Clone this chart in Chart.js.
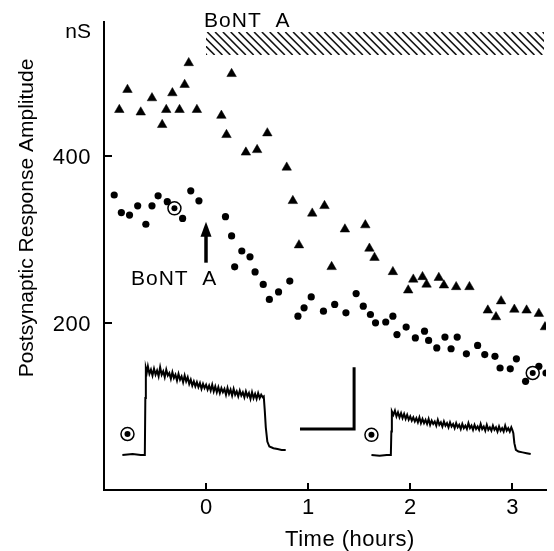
<!DOCTYPE html>
<html>
<head>
<meta charset="utf-8">
<script src="https://cdn.jsdelivr.net/npm/chart.js@4.4.0/dist/chart.umd.min.js"></script>
<style>
  html, body { margin: 0; padding: 0; background: #fff; }
</style>
</head>
<body>
<canvas id="chart" width="554" height="551"></canvas>
<script>
// ====================== Data ======================
// time in hours, amplitude in nS
const triTime = [-0.85, -0.77, -0.64, -0.53, -0.43, -0.39, -0.33, -0.26, -0.21, -0.17, -0.09, 0.15, 0.20, 0.25, 0.39, 0.50, 0.60, 0.79, 0.85, 0.91, 1.04, 1.16, 1.23, 1.36, 1.56, 1.60, 1.65, 1.83, 1.98, 2.03, 2.12, 2.16, 2.28, 2.33, 2.45, 2.58, 2.76, 2.84, 2.89, 3.02, 3.14, 3.26, 3.32];
const triAmp = [455, 479, 452, 469, 437, 455, 475, 455, 485, 511, 455, 448, 425, 498, 404, 407, 427, 386, 346, 293, 331, 340, 267, 312, 317, 289, 278, 261, 239, 252, 255, 246, 254, 245, 243, 243, 215, 207, 226, 216, 215, 211, 195];

const dotTime = [-0.90, -0.83, -0.75, -0.67, -0.59, -0.53, -0.47, -0.38, -0.23, -0.15, -0.07, 0.19, 0.25, 0.28, 0.35, 0.43, 0.48, 0.56, 0.62, 0.71, 0.82, 0.90, 0.96, 1.03, 1.15, 1.26, 1.37, 1.47, 1.54, 1.61, 1.66, 1.76, 1.83, 1.87, 1.96, 2.05, 2.14, 2.18, 2.26, 2.34, 2.40, 2.46, 2.55, 2.66, 2.73, 2.83, 2.88, 2.98, 3.04, 3.13, 3.26, 3.33];
const dotAmp = [353, 332, 329, 340, 318, 340, 352, 345, 325, 358, 346, 327, 304, 267, 286, 279, 261, 246, 228, 237, 250, 208, 218, 231, 214, 222, 212, 235, 220, 210, 200, 201, 208, 186, 195, 182, 190, 179, 170, 183, 169, 183, 163, 173, 162, 160, 146, 145, 157, 130, 148, 140];

// circled points = where the sample traces were recorded
const sampleTime = [-0.31, 3.20];
const sampleAmp = [337, 140];
const traceMarkTime = [-0.77, 1.62];
const traceMarkAmp = [67, 66];

// sample traces (inset recordings)
const trace1 = [
  [-0.82, 42], [-0.72, 43], [-0.64, 42], [-0.60, 42], [-0.595, 110], [-0.59, 146], [-0.58, 141], [-0.57, 148],
  [-0.555, 139], [-0.54, 144], [-0.525, 137], [-0.51, 145], [-0.495, 138], [-0.48, 143], [-0.465, 136], [-0.45, 147],
  [-0.435, 138], [-0.42, 142], [-0.405, 135], [-0.39, 144], [-0.375, 137], [-0.36, 140], [-0.345, 133], [-0.33, 141],
  [-0.315, 134], [-0.30, 138], [-0.285, 131], [-0.27, 139], [-0.255, 132], [-0.24, 136], [-0.225, 129], [-0.21, 137],
  [-0.195, 130], [-0.18, 135], [-0.165, 127], [-0.15, 132], [-0.135, 125], [-0.12, 130], [-0.105, 124], [-0.09, 129],
  [-0.075, 123], [-0.06, 128], [-0.045, 121], [-0.03, 127], [-0.015, 122], [0.00, 126], [0.015, 120], [0.03, 125],
  [0.045, 119], [0.06, 126], [0.075, 118], [0.09, 124], [0.105, 117], [0.12, 123], [0.135, 116], [0.15, 122],
  [0.165, 117], [0.18, 121], [0.195, 114], [0.21, 122], [0.225, 115], [0.24, 120], [0.255, 113], [0.27, 121],
  [0.285, 114], [0.30, 118], [0.315, 112], [0.33, 119], [0.345, 113], [0.36, 117], [0.375, 111], [0.39, 118],
  [0.405, 112], [0.42, 116], [0.435, 109], [0.45, 117], [0.465, 110], [0.48, 115], [0.495, 109], [0.51, 116],
  [0.525, 110], [0.54, 114], [0.555, 111], [0.565, 112], [0.575, 95], [0.585, 75], [0.60, 58], [0.62, 52],
  [0.66, 50], [0.70, 49], [0.74, 48], [0.78, 48]
];
const trace2 = [
  [1.62, 42], [1.70, 41], [1.77, 42], [1.81, 42], [1.815, 70], [1.82, 94], [1.835, 90], [1.85, 95], [1.865, 88],
  [1.88, 93], [1.895, 87], [1.91, 92], [1.925, 86], [1.94, 91], [1.955, 85], [1.97, 90], [1.985, 84], [2.00, 88],
  [2.015, 83], [2.03, 87], [2.045, 82], [2.06, 86], [2.075, 81], [2.09, 87], [2.105, 80], [2.12, 85], [2.135, 80],
  [2.15, 84], [2.165, 79], [2.18, 85], [2.195, 78], [2.21, 83], [2.225, 79], [2.24, 82], [2.255, 77], [2.27, 84],
  [2.285, 78], [2.30, 81], [2.315, 76], [2.33, 82], [2.345, 77], [2.36, 80], [2.375, 75], [2.39, 81], [2.405, 76],
  [2.42, 79], [2.435, 74], [2.45, 80], [2.465, 75], [2.48, 78], [2.495, 73], [2.51, 79], [2.525, 74], [2.54, 77],
  [2.555, 73], [2.57, 80], [2.585, 74], [2.60, 77], [2.615, 72], [2.63, 78], [2.645, 73], [2.66, 76], [2.675, 72],
  [2.69, 79], [2.705, 73], [2.72, 76], [2.735, 71], [2.75, 78], [2.765, 72], [2.78, 75], [2.795, 71], [2.81, 77],
  [2.825, 72], [2.84, 75], [2.855, 70], [2.87, 76], [2.885, 71], [2.90, 74], [2.915, 70], [2.93, 77], [2.945, 71],
  [2.96, 74], [2.975, 70], [2.99, 75], [3.00, 72], [3.01, 68], [3.02, 56], [3.035, 48], [3.06, 46], [3.10, 45],
  [3.14, 44], [3.18, 43]
];
const scaleBar = [[0.92, 73], [1.45, 73], [1.45, 147]];

const xTicks = [0, 1, 2, 3];
const yTicks = [200, 400];
const toxinStart = 0; // hours
const arrowFrom = 272, arrowTo = 321; // nS

// ====================== Helpers ======================
const FONT = '"Liberation Sans", Arial, Helvetica, sans-serif';
const pts = (xs, ys) => xs.map((t, i) => ({ x: t, y: ys[i] }));
const pairs = arr => arr.map(p => ({ x: p[0], y: p[1] }));

function drawText(ctx, txt, x, y, size, align, spacing) {
  ctx.font = size + 'px ' + FONT;
  ctx.textAlign = align;
  ctx.textBaseline = 'alphabetic';
  ctx.letterSpacing = (spacing || 0) + 'px';
  ctx.fillText(txt, x, y);
  ctx.letterSpacing = '0px';
}

// ====================== Decor plugin ======================
const decor = {
  id: 'decor',
  afterDraw(chart) {
    const { ctx, chartArea, scales: { x, y } } = chart;
    ctx.save();
    ctx.strokeStyle = '#000';
    ctx.fillStyle = '#000';

    // inward ticks + y labels
    ctx.lineWidth = 2;
    yTicks.forEach(v => {
      const py = Math.round(y.getPixelForValue(v));
      ctx.beginPath(); ctx.moveTo(chartArea.left, py); ctx.lineTo(chartArea.left + 8, py); ctx.stroke();
      drawText(ctx, String(v), chartArea.left - 13, py + 8, 22, 'right', 0.5);
    });
    xTicks.forEach(v => {
      const px = Math.round(x.getPixelForValue(v));
      ctx.beginPath(); ctx.moveTo(px, chartArea.bottom); ctx.lineTo(px, chartArea.bottom - 7); ctx.stroke();
    });

    // hatched bar for toxin
    const hx0 = x.getPixelForValue(toxinStart), hx1 = chartArea.right - 2;
    const hy0 = 32, hy1 = 55;
    ctx.save();
    ctx.beginPath(); ctx.rect(hx0, hy0, hx1 - hx0, hy1 - hy0); ctx.clip();
    ctx.lineWidth = 1.6; ctx.strokeStyle = '#111';
    for (let sx = hx0 - 30; sx < hx1 + 30; sx += 7.8) {
      ctx.beginPath(); ctx.moveTo(sx, hy0); ctx.lineTo(sx + (hy1 - hy0), hy1); ctx.stroke();
    }
    ctx.restore();

    // texts
    drawText(ctx, 'BoNT  A', hx0 - 2, 27, 21, 'left', 1);
    drawText(ctx, 'BoNT  A', 131, 285, 21, 'left', 1);
    drawText(ctx, 'nS', 91, 38, 21, 'right', 0);
    drawText(ctx, 'Time (hours)', 350, 546, 22, 'center', 0.5);
    ctx.save();
    ctx.translate(33, 218);
    ctx.rotate(-Math.PI / 2);
    drawText(ctx, 'Postsynaptic Response Amplitude', 0, 0, 21, 'center', 0);
    ctx.restore();

    // arrow
    const ax = Math.round(x.getPixelForValue(toxinStart));
    const ab = y.getPixelForValue(arrowFrom), at = y.getPixelForValue(arrowTo);
    ctx.lineWidth = 3.5;
    ctx.beginPath(); ctx.moveTo(ax, ab); ctx.lineTo(ax, at + 10); ctx.stroke();
    ctx.beginPath(); ctx.moveTo(ax, at); ctx.lineTo(ax - 5.5, at + 15); ctx.lineTo(ax + 5.5, at + 15); ctx.closePath(); ctx.fill();

    ctx.restore();
  }
};

// ====================== Chart ======================
new Chart(document.getElementById('chart'), {
  type: 'scatter',
  data: {
    datasets: [
      { data: pts(sampleTime, sampleAmp).concat(pts(traceMarkTime, traceMarkAmp)), pointStyle: 'circle', pointRadius: 3, backgroundColor: '#000', borderWidth: 0, order: 1 },
      { data: pts(sampleTime, sampleAmp).concat(pts(traceMarkTime, traceMarkAmp)), pointStyle: 'circle', pointRadius: 6.5, backgroundColor: '#fff', borderColor: '#000', borderWidth: 1.5, order: 2 },
      { data: pts(dotTime, dotAmp), pointStyle: 'circle', pointRadius: 3.6, backgroundColor: '#000', borderWidth: 0, order: 3 },
      { data: pts(triTime, triAmp), pointStyle: 'triangle', pointRadius: 5.5, backgroundColor: '#000', borderColor: '#000', borderWidth: 0.5, order: 3 },
      { data: pairs(trace1), showLine: true, pointRadius: 0, borderColor: '#000', borderWidth: 2, order: 4 },
      { data: pairs(trace2), showLine: true, pointRadius: 0, borderColor: '#000', borderWidth: 2, order: 4 },
      { data: pairs(scaleBar), showLine: true, pointRadius: 0, borderColor: '#000', borderWidth: 3, order: 4 }
    ]
  },
  options: {
    responsive: false,
    animation: false,
    devicePixelRatio: 1,
    layout: { padding: { left: 0, top: 22, right: 4, bottom: 0 } },
    plugins: { legend: { display: false }, tooltip: { enabled: false } },
    scales: {
      x: {
        type: 'linear', min: -1.0, max: 3.33,
        afterFit: s => { s.height = 61; },
        grid: { display: false, drawTicks: false },
        border: { display: true, color: '#000', width: 2 },
        ticks: {
          stepSize: 1, includeBounds: false, padding: 5, color: '#000',
          font: { family: FONT, size: 22 },
          callback: v => (xTicks.includes(v) ? String(v) : '')
        }
      },
      y: {
        type: 'linear', min: 0, max: 560,
        afterFit: s => { s.width = 104; },
        grid: { display: false, drawTicks: false },
        border: { display: true, color: '#000', width: 2 },
        ticks: { display: false, stepSize: 200 }
      }
    }
  },
  plugins: [decor]
});
</script>
</body>
</html>
